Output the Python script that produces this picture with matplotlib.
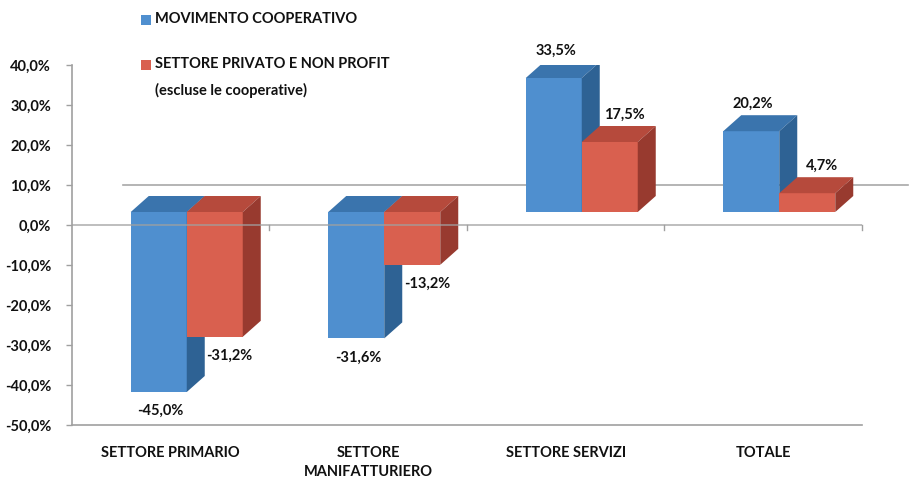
import matplotlib
matplotlib.use("Agg")
import matplotlib.pyplot as plt
from matplotlib.patches import Polygon

categories = ["SETTORE PRIMARIO", "SETTORE\nMANIFATTURIERO", "SETTORE SERVIZI", "TOTALE"]
coop = [-45.0, -31.6, 33.5, 20.2]
privato = [-31.2, -13.2, 17.5, 4.7]
series_names = ["MOVIMENTO COOPERATIVO", "SETTORE PRIVATO E NON PROFIT\n(escluse le cooperative)"]
yticks = [40, 30, 20, 10, 0, -10, -20, -30, -40, -50]

FONT = ["Lato", "DejaVu Sans"]
plt.rcParams["font.family"] = FONT
plt.rcParams["font.weight"] = "bold"
FS = 10.5
TXT = "#111111"

W, H = 912, 479
fig = plt.figure(figsize=(W / 100, H / 100), dpi=100)
L, R, T, B = 72, 862, 65, 425
ax = fig.add_axes([L / W, 1 - B / H, (R - L) / W, (B - T) / H])
ax.set_xlim(0, 4)
ax.set_ylim(-50, 40)

px_x = 4 / (R - L)          # data units per pixel (x)
px_y = 90 / (B - T)         # data units per pixel (y)

base = 13 * px_y            # 3D baseline offset of the front faces
dx = 18 * px_x
dy = 16 * px_y
bw = 56 * px_x
left_off = -40 * px_x

faces = {
    "blue": ("#4f8fcf", "#3a74ad", "#2e6294"),
    "red": ("#d9604f", "#b64a3c", "#983a2f"),
}

# background line
ax.plot([51 * px_x, (908 - L) * px_x], [10, 10], color="#a8a8a8", lw=1.2,
        clip_on=False, zorder=1)


def draw_bar(x0, v, cols):
    front, top, side = cols
    y0 = base
    y1 = base + v
    x1 = x0 + bw
    ytop = max(y0, y1)
    ybot = min(y0, y1)
    ax.add_patch(Polygon([(x0, y0), (x1, y0), (x1, y1), (x0, y1)],
                         closed=True, fc=front, ec="none", zorder=3))
    ax.add_patch(Polygon([(x0, ytop), (x1, ytop), (x1 + dx, ytop + dy), (x0 + dx, ytop + dy)],
                         closed=True, fc=top, ec="none", zorder=3))
    ax.add_patch(Polygon([(x1, ybot), (x1, ytop), (x1 + dx, ytop + dy), (x1 + dx, ybot + dy)],
                         closed=True, fc=side, ec="none", zorder=3))


def label(xc, v, xoff):
    y = base + v
    txt = f"{v:.1f}%".replace(".", ",")
    yoff = 27 if v >= 0 else -19
    ax.annotate(txt, (xc, y), xytext=(xoff, yoff), textcoords="offset pixels",
                ha="center", va="center", fontsize=FS, fontweight="bold",
                color=TXT, zorder=5, annotation_clip=False)


for i in range(len(categories)):
    c = i + 0.5
    xb = c + left_off
    xr = xb + bw
    draw_bar(xb, coop[i], faces["blue"])
    draw_bar(xr, privato[i], faces["red"])
    label(xb + bw / 2, coop[i], 2)
    label(xr + bw / 2, privato[i], 15)

# zero line with category ticks
ax.plot([0, 4], [0, 0], color="#a0a0a0", lw=1.2, alpha=0.8, zorder=4)
for k in range(1, 5):
    ax.plot([k, k], [0, -5 * px_y], color="#a0a0a0", lw=1.0, zorder=4, clip_on=False)

for s in ["top", "right"]:
    ax.spines[s].set_visible(False)
for s in ["left", "bottom"]:
    ax.spines[s].set_color("#a0a0a0")
    ax.spines[s].set_linewidth(1.2)
ax.set_facecolor("none")

ax.set_yticks(yticks)
ax.set_yticklabels([f"{t:.1f}%".replace(".", ",") for t in yticks],
                   fontsize=FS, fontweight="bold", color=TXT)
ax.tick_params(axis="y", length=4, width=1, color="#a0a0a0", pad=11)
ax.set_xticks([i + 0.5 for i in range(len(categories))])
ax.set_xticklabels(categories, fontsize=FS, fontweight="bold", color=TXT,
                   linespacing=1.5, va="top")
ax.tick_params(axis="x", length=0, pad=15)

# legend
cols = ["#4f8fcf", "#d9604f"]
leg_y = [20, 65]
for name, col, yy in zip(series_names, cols, leg_y):
    fig.patches.append(plt.Rectangle((141 / W, 1 - (yy + 5) / H), 10 / W, 10 / H,
                                     transform=fig.transFigure, fc=col, ec="none"))
    fig.text(155 / W, 1 - (yy - 8) / H, name, ha="left", va="top", fontsize=FS,
             fontweight="bold", color=TXT, linespacing=1.95)

fig.savefig("out.png", dpi=100, facecolor="white")
